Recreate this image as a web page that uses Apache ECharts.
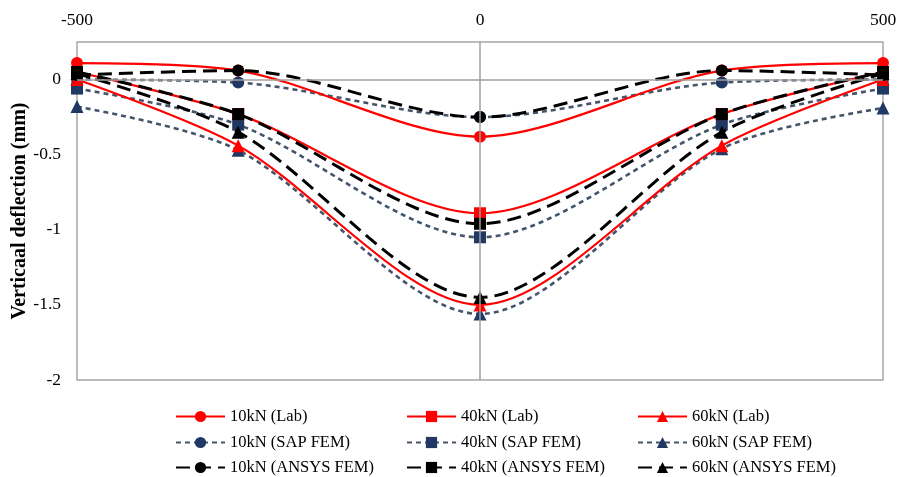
<!DOCTYPE html>
<html>
<head>
<meta charset="utf-8">
<script src="https://cdn.jsdelivr.net/npm/echarts@6/dist/echarts.min.js"></script>
<style>
html,body{margin:0;padding:0;background:#fff;}
#chart{width:898px;height:477px;}
</style>
</head>
<body>
<div id="chart"></div>
<script>
// Positions along the beam (mm)
var positions = [-500, -300, 0, 300, 500];
// Vertical deflection (mm)
var lab10   = [0.11, 0.06, -0.38, 0.06, 0.11];
var lab40   = [0.05, -0.23, -0.89, -0.23, 0.05];
var lab60   = [0.00, -0.44, -1.50, -0.44, 0.00];
var sap10   = [0.00, -0.02, -0.25, -0.02, 0.00];
var sap40   = [-0.06, -0.30, -1.05, -0.30, -0.06];
var sap60   = [-0.18, -0.47, -1.56, -0.46, -0.19];
var ansys10 = [0.03, 0.06, -0.25, 0.06, 0.03];
var ansys40 = [0.05, -0.23, -0.96, -0.23, 0.05];
var ansys60 = [0.04, -0.35, -1.45, -0.35, 0.04];
var seriesNames = [
  '10kN (Lab)', '40kN (Lab)', '60kN (Lab)',
  '10kN (SAP FEM)', '40kN (SAP FEM)', '60kN (SAP FEM)',
  '10kN (ANSYS FEM)', '40kN (ANSYS FEM)', '60kN (ANSYS FEM)'
];
var xTicks = [-500, 0, 500];
var yTicks = [-2, -1.5, -1, -0.5, 0];

function pairs(vals){ return positions.map(function(x,i){ return [x, vals[i]]; }); }

var FONT = '"Liberation Serif","Times New Roman",serif';
var RED = '#FF0000', NAVY = '#1F3864', SLATE = '#44546A', BLACK = '#000000';

function mk(name, vals, kind, sym){
  var s = {
    name: name, type: 'line', data: pairs(vals), smooth: 0.3,
    symbol: sym, symbolSize: sym === 'triangle' ? 13 : 12,
    emphasis: {disabled: true}
  };
  if (kind === 'lab'){
    s.lineStyle = {color: RED, width: 2.2, type: 'solid'};
    s.itemStyle = {color: RED};
    s.z = 3;
  } else if (kind === 'sap'){
    s.lineStyle = {color: SLATE, width: 2.6, type: [5, 4]};
    s.itemStyle = {color: NAVY};
    s.z = 2;
  } else {
    s.lineStyle = {color: BLACK, width: 3, type: [14, 7]};
    s.itemStyle = {color: BLACK};
    s.z = 4;
  }
  return s;
}

var series = [
  {type:'line', data:[], z:1, silent:true,
   markLine:{silent:true, symbol:'none', label:{show:false},
     lineStyle:{color:'#A0A0A0', width:1.5, type:'solid'},
     data:[{yAxis:0},{xAxis:0}]}},
  mk(seriesNames[3], sap10, 'sap', 'circle'),
  mk(seriesNames[4], sap40, 'sap', 'rect'),
  mk(seriesNames[5], sap60, 'sap', 'triangle'),
  mk(seriesNames[0], lab10, 'lab', 'circle'),
  mk(seriesNames[1], lab40, 'lab', 'rect'),
  mk(seriesNames[2], lab60, 'lab', 'triangle'),
  mk(seriesNames[6], ansys10, 'ansys', 'circle'),
  mk(seriesNames[7], ansys40, 'ansys', 'rect'),
  mk(seriesNames[8], ansys60, 'ansys', 'triangle')
];

var colLeft = [175, 406, 637];
var rowTop = [408, 434, 459];
var legends = seriesNames.map(function(n, i){
  return {
    data: [n], left: colLeft[i % 3], top: rowTop[Math.floor(i / 3)],
    padding: 0, itemWidth: 49, itemHeight: 14, selectedMode: false,
    textStyle: {fontFamily: FONT, fontSize: 16.5, color: '#000'}
  };
});

var chart = echarts.init(document.getElementById('chart'));
chart.setOption({
  animation: false,
  backgroundColor: '#fff',
  grid: {left: 77, right: 15, top: 42, bottom: 97, show: true, containLabel: false,
         outerBoundsMode: 'none',
         borderColor: '#A6A6A6', borderWidth: 1.5, backgroundColor: 'transparent'},
  legend: legends,
  xAxis: {
    type: 'value', position: 'top', min: -500, max: 500, interval: 500,
    axisLine: {show: false}, axisTick: {show: false}, splitLine: {show: false},
    axisLabel: {fontFamily: FONT, fontSize: 17.5, color: '#000', margin: 13,
      formatter: function(v){ return xTicks.indexOf(v) >= 0 ? String(v) : ''; }}
  },
  yAxis: {
    type: 'value', min: -2, max: 0.25, interval: 0.5,
    name: 'Verticaal deflection (mm)', nameLocation: 'middle', nameGap: 47, nameRotate: 90,
    nameMoveOverlap: false,
    nameTextStyle: {fontFamily: FONT, fontSize: 20, fontWeight: 'bold', color: '#000'},
    axisLine: {show: false}, axisTick: {show: false}, splitLine: {show: false},
    axisLabel: {fontFamily: FONT, fontSize: 17.5, color: '#000', margin: 16,
      showMaxLabel: false,
      formatter: function(v){ return yTicks.indexOf(v) >= 0 ? String(v) : ''; }}
  },
  series: series
});
</script>
</body>
</html>
